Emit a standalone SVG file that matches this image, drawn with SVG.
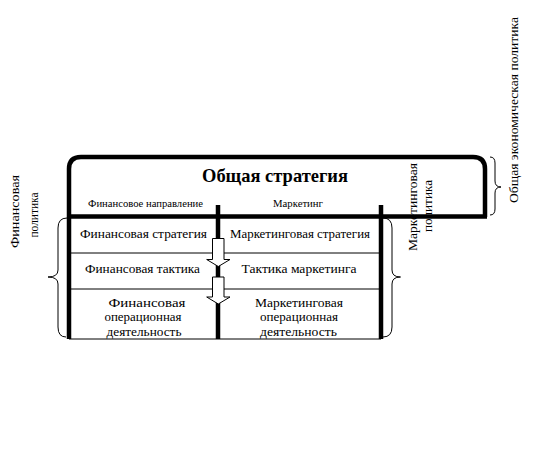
<svg xmlns="http://www.w3.org/2000/svg" width="542" height="458" viewBox="0 0 542 458">
<style>
.t{font-family:"Liberation Serif","Times New Roman",serif;font-size:13px;fill:#000;text-anchor:middle}
.s{font-size:10px}
.h{font-size:19px;font-weight:bold}
.thick{fill:none;stroke:#000;stroke-width:4.5}
.thin{fill:none;stroke:#000;stroke-width:1}
.brace{fill:none;stroke:#000;stroke-width:1}
.arrow{fill:#fff;stroke:#000;stroke-width:1}
</style>
<rect width="542" height="458" fill="#fff"/>
<g id="frame">
<path class="thick" d="M69 339 L69 169 Q69 157 81 157 L473 157 Q485 157 485 169 L485 217"/>
<line class="thick" x1="69" y1="216.5" x2="487" y2="216.5" stroke-width="3.5"/>
<line class="thick" x1="218" y1="205" x2="218" y2="339" stroke-width="4"/>
<line class="thick" x1="381" y1="205" x2="381" y2="339" stroke-width="4"/>
<line class="thin" x1="69" y1="253" x2="381" y2="253"/>
<line class="thin" x1="69" y1="289" x2="381" y2="289"/>
<line class="thin" x1="69" y1="339" x2="381" y2="339"/>
</g>
<g id="title">
<text class="t h" x="275" y="182" textLength="146" lengthAdjust="spacingAndGlyphs">Общая стратегия</text>
</g>
<g id="fin-head"><text class="t s" x="145.5" y="207" textLength="115" lengthAdjust="spacingAndGlyphs">Финансовое направление</text></g>
<g id="mkt-head"><text class="t s" x="298" y="207" textLength="50" lengthAdjust="spacingAndGlyphs">Маркетинг</text></g>
<g id="fin-strategy"><text class="t" x="143.5" y="238" textLength="127" lengthAdjust="spacingAndGlyphs">Финансовая стратегия</text></g>
<g id="mkt-strategy"><text class="t" x="300" y="238" textLength="140" lengthAdjust="spacingAndGlyphs">Маркетинговая стратегия</text></g>
<g id="fin-tactic"><text class="t" x="142.5" y="273" textLength="115" lengthAdjust="spacingAndGlyphs">Финансовая тактика</text></g>
<g id="mkt-tactic"><text class="t" x="299" y="273" textLength="115" lengthAdjust="spacingAndGlyphs">Тактика маркетинга</text></g>
<g id="fin-oper">
<text class="t" x="147" y="307" textLength="77" lengthAdjust="spacingAndGlyphs">Финансовая</text>
<text class="t" x="143" y="321" textLength="77" lengthAdjust="spacingAndGlyphs">операционная</text>
<text class="t" x="144" y="336" textLength="75" lengthAdjust="spacingAndGlyphs">деятельность</text>
</g>
<g id="mkt-oper">
<text class="t" x="299" y="307" textLength="88" lengthAdjust="spacingAndGlyphs">Маркетинговая</text>
<text class="t" x="299" y="321" textLength="78" lengthAdjust="spacingAndGlyphs">операционная</text>
<text class="t" x="298.5" y="336" textLength="77" lengthAdjust="spacingAndGlyphs">деятельность</text>
</g>
<g id="connectors">
<path class="arrow" d="M212.5 238.5 L224 238.5 L224 259.5 L230 259.5 L218.3 266.5 L206.7 259.5 L212.5 259.5 Z"/>
<path class="arrow" d="M212.5 277 L224 277 L224 297 L230 297 L218.3 304 L206.7 297 L212.5 297 Z"/>
<path class="brace" d="M67 218 Q58 218 58 228 L58 270 Q58 277 48 277 Q58 277 58 284 L58 327 Q58 337 66 337"/>
<path class="brace" d="M383 218 Q392 218 392 228 L392 270 Q392 277 400.5 277 Q392 277 392 284 L392 327 Q392 337 383 337"/>
<path class="brace" d="M490 157 Q495 157 495 163 L495 181 Q495 187 501 187 Q495 187 495 193 L495 209 Q495 215 490 215"/>
</g>
<g id="fin-policy">
<text class="t" transform="translate(19,211.5) rotate(-90)" font-size="12" textLength="73" lengthAdjust="spacingAndGlyphs">Финансовая</text>
<text class="t" transform="translate(38,215) rotate(-90)" font-size="12" textLength="45" lengthAdjust="spacingAndGlyphs">политика</text>
</g>
<g id="mkt-policy">
<text class="t" transform="translate(417,207) rotate(-90)" font-size="12" textLength="88" lengthAdjust="spacingAndGlyphs">Маркетинговая</text>
<text class="t" transform="translate(432,206) rotate(-90)" font-size="12" textLength="52" lengthAdjust="spacingAndGlyphs">политика</text>
</g>
<g id="econ-policy">
<text class="t" transform="translate(518,110) rotate(-90)" font-size="13" textLength="186" lengthAdjust="spacingAndGlyphs">Общая экономическая политика</text>
</g>
</svg>
